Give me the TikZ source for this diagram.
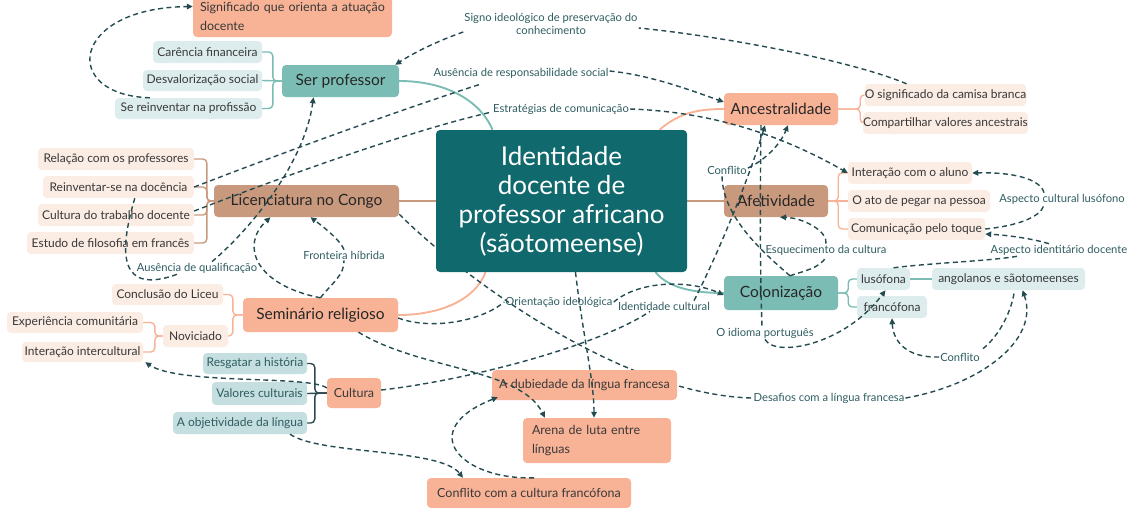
\documentclass[tikz,border=0pt]{standalone}
\usepackage{fontspec}
\setmainfont{Lato}
\usetikzlibrary{arrows.meta,calc}
\definecolor{ccen}{HTML}{10696C}
\definecolor{cteal}{HTML}{7BBDB4}
\definecolor{cltl}{HTML}{DDEDED}
\definecolor{cltm}{HTML}{C5DFE0}
\definecolor{csal}{HTML}{F8B397}
\definecolor{cbrown}{HTML}{C9997E}
\definecolor{cpeach}{HTML}{FBECE4}
\definecolor{crel}{HTML}{234B50}
\definecolor{crl}{HTML}{2E5C60}
\definecolor{ctext}{HTML}{383838}
\definecolor{cdarkbr}{HTML}{2E4A50}
\pgfdeclarelayer{bg}
\pgfsetlayers{bg,main}
\tikzset{
  tbox/.style={rounded corners=4pt, inner sep=0pt, align=center, text=ctext},
  kid/.style={tbox, font=\fontsize{12}{14}\selectfont},
  leaf/.style={tbox, font=\fontsize{12.5}{15}\selectfont},
  topic/.style={tbox, font=\fontsize{15.5}{18}\selectfont, text=black!85},
  rl/.style={font=\fontsize{11.2}{13}\selectfont, text=crl, inner sep=1pt, align=center},
  rel/.style={draw=crel, line width=1.4pt, dash pattern=on 5pt off 3.5pt},
  arr/.style={-{Triangle[length=6pt,width=5.5pt]}},
  sol/.style={draw=#1, line width=1.9pt},
  brk/.style={draw=#1, line width=1.4pt, rounded corners=4pt},
}
\begin{document}
\begin{tikzpicture}[x=1pt,y=-1pt]
\useasboundingbox (0,0) rectangle (1131,507);
% ---------- nodes ----------
\node[leaf, fill=csal, minimum width=199pt, minimum height=41pt, text width=185pt, align=left, font=\fontsize{12.5}{18.5}\selectfont] (sig) at (292.5,16.5) {Significado que orienta a atuação\\docente};
\node[topic, fill=cteal, minimum width=117pt, minimum height=32pt] (serp) at (340.5,81) {Ser professor};
\node[kid, fill=cltl, minimum width=109pt, minimum height=22pt] (car) at (207.5,52) {Carência financeira};
\node[kid, fill=cltl, minimum width=119pt, minimum height=21pt] (des) at (202.5,80.5) {Desvalorização social};
\node[kid, fill=cltl, minimum width=147pt, minimum height=21pt] (sre) at (188.5,108.5) {Se reinventar na profissão};

\node[topic, fill=csal, minimum width=114pt, minimum height=32pt] (anc) at (781,109) {Ancestralidade};
\node[kid, fill=cpeach, minimum width=151pt, minimum height=22pt] (cam) at (945.5,95) {O significado da camisa branca};
\node[kid, fill=cpeach, minimum width=151pt, minimum height=22pt] (com) at (945.5,123) {Compartilhar valores ancestrais};

\node[tbox, fill=ccen, text=white, minimum width=251pt, minimum height=142pt, font=\fontsize{26}{29}\selectfont] (cen) at (561.5,201) {Identidade\\docente de\\professor africano\\(sãotomeense)};

\node[topic, fill=cbrown, minimum width=185pt, minimum height=32pt] (lic) at (306.5,201) {Licenciatura no Congo};
\node[kid, fill=cpeach, minimum width=156pt, minimum height=22pt] (rel) at (116,159) {Relação com os professores};
\node[kid, fill=cpeach, minimum width=151pt, minimum height=22pt] (rei) at (118.5,187) {Reinventar-se na docência};
\node[kid, fill=cpeach, minimum width=156pt, minimum height=22pt] (ctd) at (116,215) {Cultura do trabalho docente};
\node[kid, fill=cpeach, minimum width=167pt, minimum height=22pt] (efi) at (110.5,243) {Estudo de filosofia em francês};

\node[topic, fill=cbrown, minimum width=104pt, minimum height=32pt] (afe) at (776,201) {Afetividade};
\node[kid, fill=cpeach, minimum width=124pt, minimum height=22pt] (int) at (910,173) {Interação com o aluno};
\node[kid, fill=cpeach, minimum width=142pt, minimum height=22pt] (ato) at (919,201) {O ato de pegar na pessoa};
\node[kid, fill=cpeach, minimum width=137pt, minimum height=22pt] (toq) at (916.5,229) {Comunicação pelo toque};

\node[topic, fill=cteal, minimum width=114pt, minimum height=34pt] (col) at (781,293) {Colonização};
\node[kid, fill=cltl, minimum width=53pt, minimum height=22pt] (lus) at (883.5,279) {lusófona};
\node[kid, fill=cltl, minimum width=70pt, minimum height=22pt] (fra) at (892,307) {francófona};
\node[kid, fill=cltl, minimum width=153pt, minimum height=22pt] (ang) at (1008.5,279) {angolanos e sãotomeenses};

\node[topic, fill=csal, minimum width=155pt, minimum height=34pt] (sem) at (320.5,315) {Seminário religioso};
\node[kid, fill=cpeach, minimum width=111pt, minimum height=21pt] (cli) at (167.5,294.5) {Conclusão do Liceu};
\node[kid, fill=cpeach, minimum width=65pt, minimum height=22pt] (nov) at (195.5,336) {Noviciado};
\node[kid, fill=cpeach, minimum width=136pt, minimum height=21pt] (exp) at (75,322.5) {Experiência comunitária};
\node[kid, fill=cpeach, minimum width=121pt, minimum height=20pt] (ite) at (82.5,352) {Interação intercultural};

\node[leaf, fill=csal, minimum width=54pt, minimum height=30pt] (cul) at (354,393) {Cultura};
\node[kid, fill=cltm, text=crl, minimum width=104pt, minimum height=21pt] (res) at (255,363.5) {Resgatar a história};
\node[kid, fill=cltm, text=crl, minimum width=95pt, minimum height=23pt] (val) at (259.5,393.5) {Valores culturais};
\node[kid, fill=cltm, text=crl, minimum width=134pt, minimum height=22pt] (obj) at (240,423) {A objetividade da língua};

\node[leaf, fill=csal, minimum width=185pt, minimum height=30pt] (dub) at (584.5,385) {A dubiedade da língua francesa};
\node[leaf, fill=csal, minimum width=148pt, minimum height=45pt, text width=130pt, align=left, font=\fontsize{12.5}{19}\selectfont] (are) at (597,440.5) {Arena de luta entre\\línguas};
\node[leaf, fill=csal, minimum width=204pt, minimum height=30pt] (cfr) at (529,493) {Conflito com a cultura francófona};

% ---------- relationship labels ----------
\node[rl] (s1) at (551,24) {Signo ideológico de preservação do\\conhecimento};
\node[rl] (a1) at (521,73) {Ausência de responsabilidade social};
\node[rl] (e1) at (561,109) {Estratégias de comunicação};
\node[rl] (cf1) at (727,170) {Conflito};
\node[rl] (acl) at (1062,199) {Aspecto cultural lusófono};
\node[rl] (esq) at (826,250) {Esquecimento da cultura};
\node[rl] (aid) at (1059,250) {Aspecto identitário docente};
\node[rl] (q1) at (197,268) {Ausência de qualificação};
\node[rl] (f1) at (344,255) {Fronteira híbrida};
\node[rl] (ori) at (559,302) {Orientação ideológica};
\node[rl] (idc) at (664,306) {Identidade cultural};
\node[rl] (idp) at (765,333) {O idioma português};
\node[rl] (c2) at (960,357) {Conflito};
\node[rl] (d1) at (829,398) {Desafios com a língua francesa};

% ---------- tree connectors ----------
\begin{pgfonlayer}{bg}
\draw[sol=cteal] (serp.east) .. controls (445,81) and (480,100) .. ([xshift=-69pt]cen.north);
\draw[sol=csal] ([xshift=98pt]cen.north) .. controls (680,112) and (700,109) .. (anc.west);
\draw[sol=cbrown] (lic.east) -- (cen.west);
\draw[sol=cbrown] (cen.east) -- (afe.west);
\draw[sol=csal] ([xshift=-76pt]cen.south) .. controls (475,300) and (440,315) .. (sem.east);
\draw[sol=cteal] ([xshift=94pt]cen.south) .. controls (670,290) and (700,293) .. (col.west);

\draw[brk=cteal] (serp.west) -- ++(-9,0) |- (car.east);
\draw[brk=cteal] (serp.west) -- (des.east);
\draw[brk=cteal] (serp.west) -- ++(-9,0) |- (sre.east);
\draw[brk=csal] (anc.east) -- ++(22,0) |- (cam.west);
\draw[brk=csal] (anc.east) -- ++(22,0) |- (com.west);
\draw[brk=cbrown] (lic.west) -- ++(-7,0) |- (rel.east);
\draw[brk=cbrown] (lic.west) -- ++(-7,0) |- (rei.east);
\draw[brk=cbrown] (lic.west) -- ++(-7,0) |- (ctd.east);
\draw[brk=cbrown] (lic.west) -- ++(-7,0) |- (efi.east);
\draw[brk=csal] (afe.east) -- ++(10,0) |- (int.west);
\draw[brk=csal] (afe.east) -- (ato.west);
\draw[brk=csal] (afe.east) -- ++(10,0) |- (toq.west);
\draw[brk=cteal] (col.east) -- ++(10,0) |- (lus.west);
\draw[brk=cteal] (col.east) -- ++(10,0) |- (fra.west);
\draw[brk=cteal] (lus.east) -- (ang.west);
\draw[brk=csal] (sem.west) -- ++(-10,0) |- (cli.east);
\draw[brk=csal] (sem.west) -- ++(-10,0) |- (nov.east);
\draw[brk=csal] (nov.west) -- ++(-8,0) |- (exp.east);
\draw[brk=csal] (nov.west) -- ++(-8,0) |- (ite.east);
\draw[brk=cdarkbr] (cul.west) -- ++(-12,0) |- (res.east);
\draw[brk=cdarkbr] (cul.west) -- (val.east);
\draw[brk=cdarkbr] (cul.west) -- ++(-12,0) |- (obj.east);
% relation partly hidden by the central box
\draw[rel] ([yshift=3pt]lic.south east) .. controls (460,275) and (620,395) .. (d1.west);
\end{pgfonlayer}

% ---------- relationships ----------
\draw[rel,arr] ([xshift=35pt]sre.north west) .. controls (60,95) and (70,8) .. ([yshift=10pt]sig.west);
\draw[rel] ([xshift=42pt]cam.north west) .. controls (850,60) and (720,36) .. ([yshift=-4pt]s1.east);
\draw[rel,arr] ([yshift=-8pt]s1.west) .. controls (440,40) and (415,52) .. ([xshift=-4pt]serp.north east);
\draw[rel] (rei.east) .. controls (290,150) and (400,110) .. ([xshift=-41pt,yshift=-5pt]a1.south);
\draw[rel,arr] ([yshift=2pt]a1.east) .. controls (650,75) and (690,90) .. ([yshift=7pt]anc.west);
\draw[rel] ([yshift=4pt]ctd.east) .. controls (300,170) and (420,128) .. ([yshift=-3pt]e1.west);
\draw[rel,arr] (e1.east) .. controls (720,112) and (790,140) .. (int.west);
\draw[rel] ([xshift=92pt]rei.south west) .. controls (118,255) and (120,295) .. ([xshift=-20pt]q1.south);
\draw[rel,arr] ([xshift=15pt]q1.north) .. controls (255,225) and (305,160) .. ([xshift=-27pt]serp.south);
\draw[rel] (sem.north) .. controls (330,285) and (345,275) .. (f1.south);
\draw[rel,arr] (f1.north) .. controls (340,240) and (325,228) .. ([xshift=4pt]lic.south);
\draw[rel,arr] (sem.north) .. controls (255,285) and (240,245) .. ([xshift=-36pt]lic.south);
\draw[rel,arr] (d1.east) .. controls (980,385) and (1040,340) .. ([xshift=14pt]ang.south);
\draw[rel,arr] (c2.west) .. controls (905,358) and (893,340) .. (fra.south);
\draw[rel] ([xshift=2pt,yshift=3pt]c2.north east) .. controls (1000,335) and (1012,310) .. ([xshift=6pt]ang.south);
\draw[rel] (toq.east) .. controls (1015,226) and (1040,218) .. ([xshift=-18pt]acl.south);
\draw[rel,arr] ([xshift=-18pt]acl.north) .. controls (1040,178) and (1010,172) .. (int.east);
\draw[rel] ([xshift=10pt]lus.north) .. controls (930,263) and (990,261) .. ([xshift=-42pt]aid.south);
\draw[rel,arr] ([xshift=-10pt]aid.north) .. controls (1030,238) and (1005,235) .. ([yshift=-5pt]toq.east);
\draw[rel] ([xshift=9pt]col.north) .. controls (800,272) and (822,268) .. (esq.south);
\draw[rel,arr] (esq.north) .. controls (828,232) and (805,218) .. ([xshift=4pt]afe.south);
\draw[rel] ([xshift=9pt]col.north) .. controls (760,250) and (722,215) .. ([xshift=-5pt]cf1.south);
\draw[rel,arr] ([yshift=2pt]cf1.east) .. controls (765,160) and (780,145) .. ([xshift=7pt]anc.south);
\draw[rel] ([yshift=3pt]cul.east) .. controls (470,380) and (600,345) .. ([xshift=-14pt]idc.south);
\draw[rel,arr] ([xshift=30pt]idc.north) .. controls (720,250) and (750,175) .. ([xshift=-16pt]anc.south);
\draw[rel] ([xshift=-20pt]anc.south) .. controls (760,200) and (760,270) .. ([xshift=-3pt]idp.north);
\draw[rel,arr] (idp.south) .. controls (775,358) and (845,345) .. ([xshift=2pt]lus.south);
\draw[rel] ([yshift=-3pt]sem.east) .. controls (430,330) and (480,322) .. (ori.west);
\draw[rel,arr] (ori.east) .. controls (640,280) and (690,280) .. ([yshift=-2pt]col.west);
\draw[rel,arr] ([xshift=38pt]sem.south) .. controls (420,370) and (520,368) .. ([xshift=-52pt]are.north);
\draw[rel,arr] ([xshift=14pt]cen.south) .. controls (582,330) and (594,380) .. ([xshift=-3pt]are.north);
\draw[rel,arr] ([yshift=5pt]cul.west) .. controls (310,375) and (180,385) .. ([xshift=2pt]ite.south east);
\draw[rel,arr] ([xshift=50pt]obj.south) .. controls (320,455) and (440,448) .. ([xshift=-66pt]cfr.north);
\draw[rel,arr] ([xshift=5pt]cfr.north) .. controls (460,480) and (415,430) .. ([xshift=6pt,yshift=3pt]dub.south west);
\end{tikzpicture}
\end{document}
